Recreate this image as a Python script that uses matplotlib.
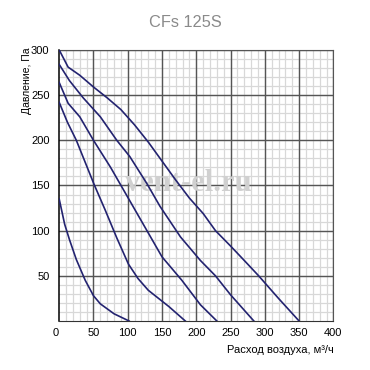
import matplotlib.pyplot as plt

# fan curves
a_x = [0, 13, 30, 50, 70, 90, 110, 130, 150, 170, 190, 210, 228, 250, 270, 291, 320, 350]
a_y = [300, 281, 272, 259, 247, 234, 217, 198, 177, 156, 136, 119, 100, 83, 67, 50, 25, 0]
b_x = [0, 15, 35, 60, 84, 103, 128, 147, 177, 206, 228, 250, 284]
b_y = [284, 266, 247, 226, 200, 182, 152, 127, 93, 67, 50, 29, 0]
c_x = [0, 13, 30, 50, 75, 100, 125, 150, 179, 206, 230]
c_y = [264, 241, 226, 200, 170, 137, 104, 71, 45, 18, 0]
d_x = [0, 12, 25, 51, 67, 84, 101, 115, 130, 160, 184]
d_y = [242, 220, 200, 151, 123, 92, 63, 47, 34, 16, 0]
e_x = [0, 8, 15, 25, 38, 50, 60, 80, 102]
e_y = [135, 107, 90, 68, 45, 28, 19, 8, 0]

x_ticks = [0, 50, 100, 150, 200, 250, 300, 350, 400]
y_ticks = [50, 100, 150, 200, 250, 300]

plt.rcParams['font.family'] = ['Liberation Sans', 'DejaVu Sans']

fig = plt.figure(figsize=(3.7, 3.7), dpi=100)
ax = fig.add_axes([0.160, 0.1324, 0.741, 0.7326])

ax.set_xlim(0, 400)
ax.set_ylim(0, 300)

# graph paper grid
for v in range(10, 400, 10):
    ax.axvline(v, color='#d8d8d8', lw=0.9, zorder=0)
for v in range(10, 300, 10):
    ax.axhline(v, color='#d8d8d8', lw=0.9, zorder=0)
for v in x_ticks[1:]:
    ax.axvline(v, color='#555555', lw=1.0, zorder=1)
for v in y_ticks:
    ax.axhline(v, color='#555555', lw=1.0, zorder=1)

ax.text(188, 152, 'vent-el.ru', fontsize=22, fontweight='bold', family='Liberation Serif',
        color='#d0d0d0', ha='center', va='center', zorder=1.5)

for xs, ys in [(a_x, a_y), (b_x, b_y), (c_x, c_y), (d_x, d_y), (e_x, e_y)]:
    ax.plot(xs, ys, color='#232370', lw=1.2, zorder=3)

for s in ['top', 'right']:
    ax.spines[s].set_color('#555555')
ax.spines['left'].set_color('black')
ax.spines['bottom'].set_color('#333333')
ax.spines['left'].set_linewidth(1.1)

ax.set_xticks(x_ticks)
ax.set_yticks(y_ticks)
ax.tick_params(length=0, labelsize=8)
ax.tick_params(axis='y', pad=7)
ax.tick_params(axis='x', pad=5)
ax.get_xticklabels()[0].set_ha('right')

ax.set_xlabel('Расход воздуха, м³/ч', fontsize=8, loc='right')
ax.xaxis.set_label_coords(1.0, -0.088)
ax.set_ylabel('Давление, Па', fontsize=7.5, loc='top')
ax.yaxis.set_label_coords(-0.10, 1.01)

fig.text(0.5, 0.939, 'CFs 125S', fontsize=11.8, color='#8a8a8a', ha='center', va='center')

plt.savefig('out.png', dpi=100)
